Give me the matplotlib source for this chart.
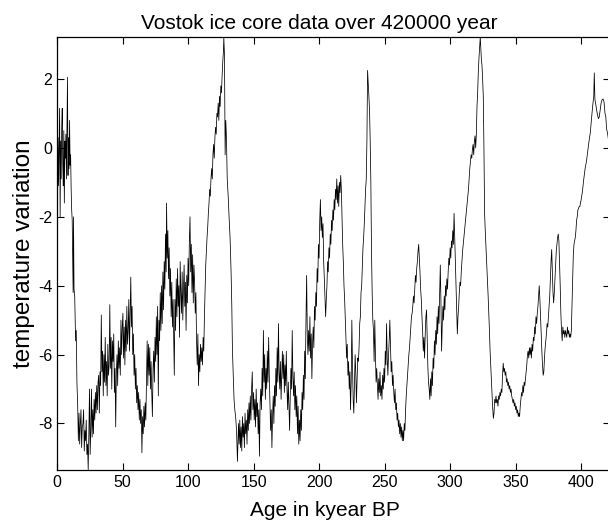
import numpy as np
import matplotlib
matplotlib.use("Agg")
import matplotlib.pyplot as plt

plt.rcParams['font.family'] = ['Liberation Sans', 'DejaVu Sans']
plt.rcParams['axes.unicode_minus'] = False

# last glacial cycle, 0 - 138 kyr
age_a = [0.0, 0.4, 0.8, 1.2, 1.6, 2.0, 2.4, 2.8, 3.2, 3.6,
         4.0, 4.4, 4.8, 5.2, 5.6, 6.0, 6.4, 6.8, 7.2, 7.6,
         8.0, 8.4, 8.8, 9.2, 9.6, 10.0, 10.4, 10.8, 11.2, 11.6,
         12.0, 12.3, 12.6, 13.0, 13.5, 14.2, 14.7, 15.2, 15.8,
         16.3, 16.8, 17.3, 17.8, 18.3, 18.8, 19.3, 19.8, 20.3, 20.8,
         21.3, 21.8, 22.3, 22.8, 23.3, 23.8, 24.3, 24.8, 25.3, 25.8,
         26.3, 26.8, 27.3, 27.8, 28.3, 28.8, 29.3, 29.8, 30.3, 30.8,
         31.3, 31.8, 32.3, 32.8, 33.3, 33.8, 34.3, 34.8, 35.3, 35.8,
         36.3, 36.8, 37.3, 37.8, 38.3, 38.8, 39.3, 39.8, 40.3, 40.8,
         41.3, 41.8, 42.3, 42.8, 43.3, 43.8, 44.3, 44.8, 45.3, 45.8,
         46.3, 46.8, 47.3, 47.8, 48.3, 48.8, 49.3, 49.8, 50.3, 50.8,
         51.3, 51.8, 52.3, 52.8, 53.3, 53.8, 54.3, 54.8, 55.3, 55.8,
         56.3, 56.8, 57.3, 57.8, 58.3, 58.8, 59.3, 59.8, 60.3, 60.8,
         61.3, 61.8, 62.3, 62.8, 63.3, 63.8, 64.3, 64.8, 65.3, 65.8,
         66.3, 66.8, 67.3, 67.8, 68.3, 68.8, 69.3, 69.8, 70.3, 70.8,
         71.3, 71.8, 72.3, 72.8, 73.3, 73.8, 74.3, 74.8, 75.3, 75.8,
         76.3, 76.8, 77.3, 77.8, 78.3, 78.8, 79.3, 79.8, 80.3, 80.8,
         81.3, 81.8, 82.3, 82.8, 83.3, 83.6, 84.1, 84.6, 85.1, 85.6,
         86.1, 86.6, 87.1, 87.6, 88.1, 88.6, 89.1, 89.5, 90.0, 90.5,
         91.0, 91.5, 92.0, 92.5, 93.0, 93.5, 94.0, 94.5, 95.0, 95.5,
         96.0, 96.5, 97.0, 97.5, 98.0, 98.5, 99.0, 99.5, 100.0, 100.5,
         101.0, 101.5, 102.0, 102.5, 103.0, 103.5, 104.0, 104.5, 105.0, 105.5,
         106.0, 106.5, 107.0, 107.5, 108.0, 108.5, 109.0, 109.5, 110.0, 110.5,
         111.0, 111.5, 112.0, 112.5, 113.0, 113.5, 114.0, 114.5, 115.0, 115.5,
         116.0, 116.5, 117.0, 117.5, 118.0, 118.5, 119.0, 119.5, 120.0, 120.5,
         121.0, 121.5, 122.0, 122.5, 123.0, 123.5, 124.0, 124.5, 125.0, 125.5,
         126.0, 126.5, 127.0, 127.3, 127.8, 128.3, 128.8, 129.3, 129.9, 130.7,
         131.3, 132.0, 132.4, 132.9, 133.4, 133.9, 134.5, 135.1, 135.7, 136.4,
         137.0, 137.7]
temp_a = [-0.4, -1.6, 0.3, -1.1, 0.1, 1.15, -2.0, 0.2, -0.9, 0.6,
          1.15, -0.5, -1.1, 0.5, -1.6, 0.2, -0.3, 0.4, -0.9, 0.5,
          2.05, -0.8, 0.3, -0.6, 0.8, -0.5, -0.2, -1.2, -1.8, -2.1,
          -3.4, -4.2, -2.0, -4.1, -4.3, -5.6, -5.3, -6.8, -7.5,
          -8.5, -7.7, -8.6, -8.0, -7.6, -8.7, -8.1, -8.0, -7.6, -8.8,
          -8.2, -8.5, -7.9, -8.9, -8.6, -9.34, -8.3, -7.0, -8.9, -8.2,
          -7.0, -8.4, -7.6, -8.3, -7.3, -7.9, -7.1, -7.7, -6.9, -7.6,
          -6.8, -6.6, -7.7, -6.5, -6.9, -4.85, -6.5, -5.9, -7.2, -6.0,
          -6.8, -5.5, -6.9, -6.2, -7.2, -5.7, -6.6, -6.3, -4.55, -6.4,
          -5.5, -7.0, -5.6, -6.2, -5.4, -7.1, -6.4, -8.1, -6.5, -6.0,
          -6.9, -5.6, -6.4, -5.8, -6.6, -5.0, -6.0, -5.2, -4.8, -6.1,
          -5.2, -6.3, -5.0, -5.9, -4.6, -5.7, -5.3, -4.4, -5.9, -4.9,
          -3.75, -5.2, -4.6, -6.0, -5.4, -6.6, -6.0, -7.0, -6.4, -7.4,
          -6.9, -7.6, -7.1, -7.9, -7.3, -8.0, -7.6, -8.85, -7.8, -8.3,
          -7.5, -8.1, -7.4, -7.9, -6.8, -5.6, -6.9, -5.7, -6.6, -5.8,
          -7.0, -6.2, -7.1, -7.8, -6.4, -5.9, -6.8, -5.5, -6.2, -4.9,
          -6.0, -4.6, -7.2, -5.0, -5.6, -4.2, -5.3, -4.0, -5.1, -3.6,
          -4.7, -3.3, -4.1, -2.5, -3.6, -1.6, -3.2, -2.4, -3.8, -2.9,
          -4.3, -3.5, -4.9, -3.9, -5.2, -4.4, -5.6, -6.6, -4.4, -5.3,
          -3.8, -4.9, -3.5, -4.6, -4.0, -5.5, -3.3, -4.2, -4.8, -3.6,
          -5.0, -4.1, -3.4, -4.6, -3.9, -5.3, -3.7, -4.5, -3.2, -4.0,
          -2.7, -2.0, -3.6, -2.8, -4.2, -3.1, -4.5, -3.4, -3.9, -4.8,
          -4.2, -5.6, -6.3, -5.4, -6.9, -6.0, -6.5, -5.7, -6.2, -5.8,
          -6.3, -5.5, -5.9, -4.9, -4.2, -3.4, -3.0, -2.6, -2.3, -1.9,
          -1.6, -1.2, -1.4, -0.9, -0.6, -0.9, -0.2, 0.1, -0.3, 0.3,
          0.6, 0.4, 1.0, 0.9, 1.3, 0.8, 1.5, 1.2, 1.8, 1.6,
          2.1, 2.5, 2.8, 3.2, 2.7, -0.2, 0.8, 0.3, -0.9, -1.45,
          -2.0, -2.55, -3.0, -3.7, -4.6, -5.9, -6.6, -7.3, -7.6, -7.85,
          -8.2, -9.1]

# penultimate glacial, 138 - 220 kyr
age_b = [138.5, 139.0, 139.5, 140.0, 140.5, 141.0, 141.5, 142.0, 142.5, 143.0,
         143.5, 144.0, 144.5, 145.0, 145.5, 146.0, 146.5, 147.0, 147.5, 148.0,
         148.5, 149.0, 149.5, 150.0, 150.5, 151.0, 151.5, 152.0, 152.5, 153.0,
         153.5, 154.0, 154.5, 155.0, 155.5, 156.0, 156.5, 157.0, 157.5, 158.0,
         158.5, 159.0, 159.5, 160.0, 160.5, 161.0, 161.5, 162.0, 162.5, 163.0,
         163.5, 164.0, 164.5, 165.0, 165.5, 166.0, 166.5, 167.0, 167.5, 168.0,
         168.5, 169.0, 169.5, 170.0, 170.5, 171.0, 171.5, 172.0, 172.5, 173.0,
         173.5, 174.0, 174.5, 175.0, 175.5, 176.0, 176.5, 177.0, 177.5, 178.0,
         178.5, 179.0, 179.5, 180.0, 180.5, 181.0, 181.5, 182.0, 182.5, 183.0,
         183.5, 184.0, 184.5, 185.0, 185.5, 186.0, 186.5, 187.0, 187.5, 188.0,
         188.5, 189.0, 189.5, 190.0, 190.5, 191.0, 191.5, 192.0, 192.5, 193.0,
         193.5, 194.0, 194.5, 195.0, 195.5, 196.0, 196.5, 197.0, 197.5, 198.0,
         198.5, 199.0, 199.5, 200.0, 200.5, 201.0, 201.5, 202.0, 202.5, 203.0,
         203.5, 204.0, 204.5, 205.0, 205.5, 206.0, 206.5, 207.0, 207.5, 208.0,
         208.5, 209.0, 209.5, 210.0, 210.5, 211.0, 211.5, 212.0, 212.5, 213.0,
         213.5, 214.0, 214.5, 215.0, 215.5, 216.0, 216.5, 217.0, 217.5, 218.0,
         218.5, 219.0, 219.5, 220.0]
temp_b = [-8.0, -8.6, -7.9, -8.7, -8.1, -8.8, -7.8, -8.4, -8.0, -8.7,
          -7.7, -8.3, -7.9, -8.6, -7.6, -8.2, -7.4, -8.0, -7.2, -7.9,
          -7.0, -6.5, -7.6, -7.1, -7.9, -7.3, -8.1, -7.0, -7.8, -7.4,
          -8.3, -7.6, -8.95, -7.4, -7.0, -7.6, -6.4, -7.2, -5.3, -6.8,
          -6.0, -7.3, -6.4, -7.0, -5.9, -6.8, -5.5, -6.6, -7.4, -8.2,
          -7.6, -8.7, -7.8, -7.2, -8.0, -6.9, -7.5, -6.4, -7.2, -5.8,
          -6.8, -5.1, -6.5, -7.0, -6.2, -7.3, -6.6, -5.9, -6.7, -6.0,
          -7.1, -6.3, -6.9, -5.9, -7.0, -7.6, -6.8, -7.5, -8.2, -7.2,
          -6.4, -7.0, -5.3, -6.6, -7.2, -6.5, -7.6, -6.9, -7.8, -7.2,
          -8.3, -7.5, -8.6, -7.9, -8.5, -7.6, -8.2, -7.1, -7.6, -6.6,
          -7.3, -5.9, -6.7, -5.0, -3.7, -5.4, -6.0, -5.3, -5.9, -4.9,
          -6.1, -5.4, -6.7, -5.7, -5.2, -5.8, -4.6, -5.0, -4.2, -4.6,
          -3.5, -3.9, -2.8, -3.2, -2.1, -1.5, -2.4, -2.0, -2.6, -2.2,
          -3.3, -3.8, -4.4, -4.9, -4.4, -4.0, -3.3, -3.6, -2.9, -3.2,
          -2.5, -2.8, -2.1, -2.4, -1.8, -2.1, -1.5, -1.8, -1.2, -1.5,
          -0.9, -1.6, -1.1, -1.7, -1.0, -1.3, -0.8, -1.2, -2.0, -2.8,
          -3.3, -4.0, -4.4, -5.0]

# 220 - 320 kyr
age_c = [220.5, 221.0, 221.5, 222.0, 222.5, 223.0, 223.5, 224.0, 224.5, 225.0,
         225.5, 226.0, 226.5, 227.0, 227.5, 228.0, 228.5, 229.0, 229.5, 230.0,
         230.5, 231.0, 231.5, 232.0, 232.5, 233.0, 233.5, 234.0, 234.5, 235.0,
         235.5, 236.0, 236.5, 237.0, 237.5, 238.0, 238.5, 239.0, 239.5, 240.0,
         240.5, 241.0, 241.5, 242.0, 242.5, 243.0, 243.5, 244.0, 244.5, 245.0,
         245.5, 246.0, 246.5, 247.0, 247.5, 248.0, 248.5, 249.0, 249.5, 250.0,
         250.5, 251.0, 251.5, 252.0, 252.5, 253.0, 253.5, 254.0, 254.5, 255.0,
         255.5, 256.0, 256.5, 257.0, 257.5, 258.0, 258.5, 259.0, 259.5, 260.0,
         260.5, 261.0, 261.5, 262.0, 262.5, 263.0, 263.5, 264.0, 264.5, 265.0,
         265.5, 266.0, 266.5, 267.0, 267.5, 268.0, 268.5, 269.0, 269.5, 270.0,
         270.5, 271.0, 271.5, 272.0, 272.5, 273.0, 273.5, 274.0, 274.5, 275.0,
         275.5, 276.0, 276.5, 277.0, 277.5, 278.0, 278.5, 279.0, 279.5, 280.0,
         280.5, 281.0, 281.5, 282.0, 282.5, 283.0, 283.5, 284.0, 284.5, 285.0,
         285.5, 286.0, 286.5, 287.0, 287.5, 288.0, 288.5, 289.0, 289.5, 290.0,
         290.5, 291.0, 291.5, 292.0, 292.5, 293.0, 293.5, 294.0, 294.5, 295.0,
         295.5, 296.0, 296.5, 297.0, 297.5, 298.0, 298.5, 299.0, 299.5, 300.0,
         300.5, 301.0, 301.5, 302.0, 302.5, 303.0, 303.5, 304.0, 304.5, 305.0,
         305.5, 306.0, 306.5, 307.0, 307.5, 308.0, 308.5, 309.0, 309.5, 310.0,
         310.5, 311.0, 311.5, 312.0, 312.5, 313.0, 313.5, 314.0, 314.5, 315.0,
         315.5, 316.0, 316.5, 317.0, 317.5, 318.0, 318.5, 319.0, 319.5, 320.0]
temp_c = [-5.5, -6.1, -5.7, -6.6, -6.2, -7.0, -6.5, -7.6, -6.8, -5.0,
          -6.3, -7.3, -7.7, -6.9, -6.0, -6.5, -7.4, -6.7, -6.1, -6.2,
          -5.8, -5.1, -4.9, -4.2, -4.0, -3.4, -2.9, -2.6, -2.2, -1.7,
          -1.2, -0.9, 0.2, 2.25, 1.9, 1.5, 1.1, 0.2, -1.0, -3.0,
          -4.2, -5.0, -5.3, -6.2, -5.0, -6.0, -6.8, -6.4, -6.9, -7.3,
          -6.7, -7.1, -6.5, -7.2, -6.9, -7.3, -6.6, -7.0, -6.4, -6.8,
          -5.9, -6.3, -5.1, -6.1, -6.6, -6.0, -5.6, -5.0, -5.8, -6.5,
          -6.2, -6.9, -6.6, -7.1, -7.4, -7.0, -7.6, -7.4, -7.9, -7.7,
          -8.1, -7.9, -8.3, -8.0, -8.4, -8.1, -8.5, -8.2, -8.5, -8.0,
          -8.2, -7.6, -7.2, -6.9, -6.6, -6.3, -6.0, -5.8, -5.5, -5.2,
          -4.9, -4.8, -4.6, -4.3, -4.5, -4.1, -3.7, -3.9, -3.5, -3.3,
          -3.0, -2.8, -3.2, -3.6, -4.1, -4.4, -4.9, -5.3, -5.9, -5.5,
          -6.1, -5.4, -4.9, -4.7, -5.6, -6.35, -6.8, -7.0, -7.3, -6.7,
          -7.2, -6.5, -6.9, -6.1, -6.4, -5.6, -6.0, -5.3, -5.7, -4.9,
          -5.4, -4.6, -5.1, -4.2, -3.4, -4.5, -5.9, -5.1, -4.6, -5.0,
          -4.3, -4.7, -4.0, -4.3, -3.8, -4.1, -3.6, -3.2, -3.4, -2.9,
          -3.2, -2.7, -2.9, -2.4, -2.8, -1.9, -2.6, -3.2, -3.9, -4.6,
          -5.4, -4.9, -4.6, -4.2, -3.9, -4.0, -3.6, -3.3, -3.0, -2.8,
          -2.6, -2.4, -2.2, -2.0, -1.8, -1.6, -1.4, -1.2, -0.9, -0.6,
          -0.4, -0.2, -0.3, -0.05, 0.1, -0.2, 0.2, 0.35, 0.0, 0.4]

# 320 - 422 kyr
age_d = [320.5, 321.0, 321.5, 322.0, 322.5, 323.0, 323.4, 323.8, 324.3, 324.8,
         325.3, 325.8, 326.3, 326.8, 327.5, 328.2, 329.0, 329.8, 330.5, 331.2,
         331.8, 332.4, 333.0, 333.5,
         334.0, 334.5, 335.0, 335.5, 336.0, 336.5, 337.0, 337.5, 338.0, 338.5,
         339.0, 339.5, 340.0, 340.5, 341.0, 341.5, 342.0, 342.5, 343.0, 343.5,
         344.0, 344.5, 345.0, 345.5, 346.0, 346.5, 347.0, 347.5, 348.0, 348.5,
         349.0, 349.5, 350.0, 350.5, 351.0, 351.5, 352.0, 352.5, 353.0, 353.5,
         354.0, 354.5, 355.0, 355.5, 356.0, 356.5, 357.0, 357.5, 358.0, 358.5,
         359.0, 359.5, 360.0, 360.5, 361.0, 361.5, 362.0, 362.5, 363.0, 363.5,
         364.0, 364.5, 365.0, 365.5, 366.0, 366.5, 367.0, 367.5, 368.0, 368.5,
         369.0, 369.5, 370.0, 370.5, 371.0, 371.5, 372.0, 372.5, 373.0, 373.5,
         374.0, 374.5, 375.0, 375.5, 376.0, 376.5, 377.0, 377.5, 378.0, 378.5,
         379.0, 379.5, 380.0, 380.5, 381.0, 381.5, 382.0, 382.5, 383.0, 383.5,
         384.0, 384.5, 385.0, 385.5, 386.0, 386.5, 387.0, 387.5, 388.0, 388.5,
         389.0, 389.5, 390.0, 390.5, 391.0, 391.5, 392.0, 392.5, 393.0, 393.5,
         394.0, 394.5, 395.0, 395.5, 396.0, 396.5, 397.0, 397.5, 398.0, 398.5,
         399.0, 399.5, 400.0, 401.0, 402.0, 403.0, 404.0, 405.0, 406.0, 407.0,
         408.0, 409.0, 409.6, 410.0, 410.5, 411.0, 411.8, 412.5, 413.2, 413.8,
         414.5, 415.2, 416.0, 416.7, 417.4, 418.2, 418.8, 419.4, 420.0, 420.6,
         421.2, 421.8]
temp_d = [1.2, 1.6, 2.2, 2.6, 2.9, 3.22, 2.9, 2.6, 2.4, 2.0,
          1.5, 0.0, -1.9, -2.4, -3.0, -3.6, -4.3, -5.1, -5.9, -6.5,
          -7.0, -7.5, -7.85, -7.7,
          -7.3, -7.4, -7.2, -7.4, -7.3, -7.5, -7.2, -7.3, -7.1, -7.2,
          -7.0, -7.1, -6.6, -6.25, -6.5, -6.4, -6.6, -6.5, -6.8, -6.7,
          -6.9, -6.8, -7.0, -6.9, -7.1, -7.0, -7.2, -7.3, -7.4, -7.3,
          -7.5, -7.4, -7.6, -7.5, -7.7, -7.6, -7.8, -7.7, -7.8, -7.5,
          -7.3, -7.1, -7.2, -6.9, -7.1, -6.8, -6.9, -6.7, -6.5, -6.3,
          -6.0, -5.9, -6.1, -5.8, -6.0, -5.8, -6.1, -5.7, -5.9, -5.5,
          -5.6, -5.2, -5.4, -4.9, -5.1, -4.8, -4.6, -4.3, -4.0, -4.4,
          -4.9, -5.4, -5.9, -6.3, -6.6, -6.5, -6.1, -5.8, -5.6, -5.4,
          -5.1, -5.2, -4.9, -4.6, -4.3, -3.8, -3.3, -2.95, -3.6, -4.2,
          -4.5, -4.2, -3.8, -3.4, -3.0, -2.8, -2.6, -2.5, -2.7, -3.3,
          -4.0, -4.8, -5.3, -5.6, -5.2, -5.4, -5.3, -5.5, -5.3, -5.4,
          -5.5, -5.2, -5.4, -5.3, -5.5, -5.4, -5.5, -5.3, -4.6, -3.8,
          -3.1, -2.8, -2.7, -2.6, -2.4, -2.1, -2.0, -1.8, -1.75, -1.7,
          -1.7, -1.6, -1.5, -1.25, -0.9, -0.6, -0.4, -0.1, 0.2, 0.45,
          0.9, 1.3, 1.5, 2.18, 1.4, 1.3, 1.1, 0.95, 0.85, 0.9,
          1.1, 1.3, 1.4, 1.42, 1.35, 1.0, 0.9, 0.55, 0.45, 0.3,
          0.1, 0.0]

age = np.concatenate([age_a, age_b, age_c, age_d])
temp = np.concatenate([temp_a, temp_b, temp_c, temp_d])

fig = plt.figure(figsize=(6.08, 5.23), dpi=100)
ax = fig.add_axes([57 / 608, 53 / 523, 553 / 608, 433 / 523])

ax.plot(age, temp, color='black', linewidth=0.55)

ax.set_xlim(0, 422)
ax.set_ylim(-9.35, 3.22)
ax.set_xticks(np.arange(0, 401, 50))
ax.set_yticks([-8, -6, -4, -2, 0, 2])
ax.tick_params(direction='in', length=5, top=True, right=True, labelsize=11.5, width=0.8)
for s in ax.spines.values():
    s.set_linewidth(0.9)

ax.set_title('Vostok ice core data over 420000 year', fontsize=15, pad=6, x=0.475)
ax.set_xlabel('Age in kyear BP', fontsize=15)
ax.xaxis.set_label_coords(0.484, -0.072)
ax.set_ylabel('temperature variation', fontsize=17.5, labelpad=2)

fig.savefig('out.png', dpi=100)
